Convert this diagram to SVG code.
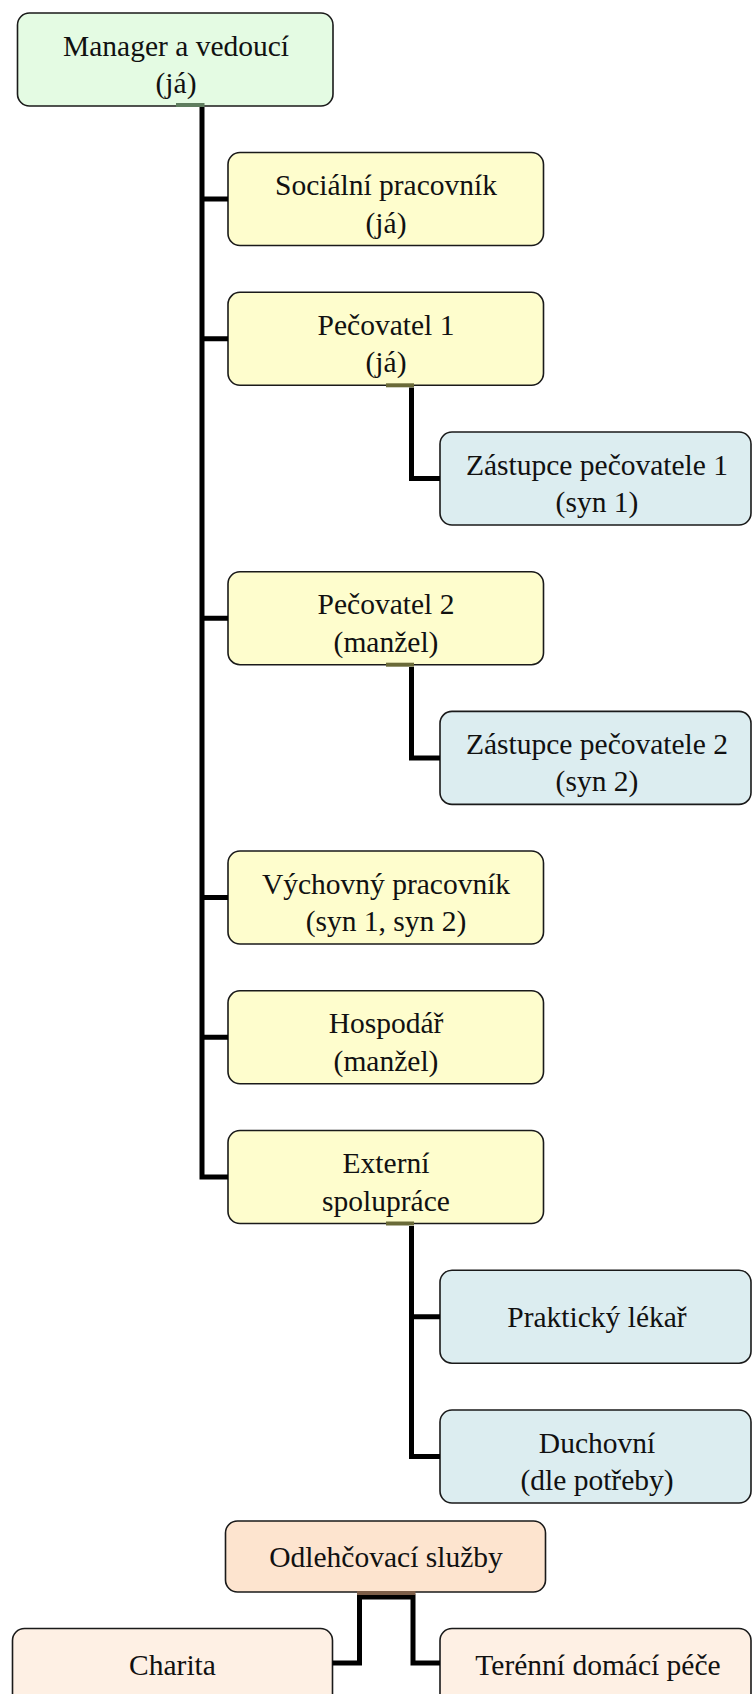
<svg xmlns="http://www.w3.org/2000/svg" width="752" height="1694" viewBox="0 0 752 1694">
<style>
.box{stroke:#1a1a1a;stroke-width:1.6}
.g{fill:#e4fbe3}
.y{fill:#fefdcd}
.b{fill:#dcedf0}
.o{fill:#fde4cf}
.lo{fill:#fef0e4}
.ln{fill:none;stroke:#000;stroke-width:5;stroke-linejoin:miter}
.stub{stroke-width:4;fill:none}
</style>
<rect width="752" height="1694" fill="#fff"/>
<g id="nodes" font-family="Liberation Serif, Times New Roman, serif" font-size="29.5" fill="#111" text-anchor="middle">
<g id="n-manager"><rect class="box g" x="17.5" y="13" width="315.5" height="93" rx="12"/><text x="176" y="55.5">Manager a vedoucí</text><text x="176" y="93">(já)</text></g>
<g id="n-socialni"><rect class="box y" x="228" y="152.5" width="315.5" height="93" rx="12"/><text x="386" y="195">Sociální pracovník</text><text x="386" y="232.5">(já)</text></g>
<g id="n-pecovatel1"><rect class="box y" x="228" y="292.3" width="315.5" height="93" rx="12"/><text x="386" y="334.8">Pečovatel 1</text><text x="386" y="372.3">(já)</text></g>
<g id="n-zastupce1"><rect class="box b" x="440" y="432" width="311" height="93" rx="12"/><text x="597" y="474.5">Zástupce pečovatele 1</text><text x="597" y="512">(syn 1)</text></g>
<g id="n-pecovatel2"><rect class="box y" x="228" y="571.7" width="315.5" height="93" rx="12"/><text x="386" y="614.2">Pečovatel 2</text><text x="386" y="651.7">(manžel)</text></g>
<g id="n-zastupce2"><rect class="box b" x="440" y="711.4" width="311" height="93" rx="12"/><text x="597" y="753.9">Zástupce pečovatele 2</text><text x="597" y="791.4">(syn 2)</text></g>
<g id="n-vychovny"><rect class="box y" x="228" y="851" width="315.5" height="93" rx="12"/><text x="386" y="893.5">Výchovný pracovník</text><text x="386" y="931">(syn 1, syn 2)</text></g>
<g id="n-hospodar"><rect class="box y" x="228" y="990.8" width="315.5" height="93" rx="12"/><text x="386" y="1033.3">Hospodář</text><text x="386" y="1070.8">(manžel)</text></g>
<g id="n-externi"><rect class="box y" x="228" y="1130.5" width="315.5" height="93" rx="12"/><text x="386" y="1173">Externí</text><text x="386" y="1210.5">spolupráce</text></g>
<g id="n-prakticky"><rect class="box b" x="440" y="1270.2" width="311" height="93" rx="12"/><text x="597" y="1326.5">Praktický lékař</text></g>
<g id="n-duchovni"><rect class="box b" x="440" y="1410" width="311" height="93" rx="12"/><text x="597" y="1452.5">Duchovní</text><text x="597" y="1490">(dle potřeby)</text></g>
<g id="n-odlehcovaci"><rect class="box o" x="225.5" y="1521" width="320" height="71" rx="12"/><text x="386" y="1567">Odlehčovací služby</text></g>
<g id="n-charita"><rect class="box lo" x="12.5" y="1628.5" width="320" height="80" rx="12"/><text x="172.5" y="1675">Charita</text></g>
<g id="n-terenni"><rect class="box lo" x="440" y="1628.5" width="311" height="80" rx="12"/><text x="598" y="1675">Terénní domácí péče</text></g>
</g>
<g id="connectors">
<path class="ln" d="M202,107 V1177 H228 M202,199 H228 M202,338.8 H228 M202,618.2 H228 M202,897.5 H228 M202,1037.3 H228"/>
<path class="ln" d="M411.5,387.5 V478.5 H440"/>
<path class="ln" d="M411.5,667 V757.9 H440"/>
<path class="ln" d="M411.5,1226 V1456.5 H440 M411.5,1316.7 H440"/>
<path class="ln" d="M386,1597 H359.5 V1663 H332.5"/>
<path class="ln" d="M386,1597 H413 V1663 H440"/>
<line class="stub" x1="176" y1="105" x2="204.5" y2="105" stroke="#5f7d5f"/>
<line class="stub" x1="386" y1="385.3" x2="414" y2="385.3" stroke="#6a6a38"/>
<line class="stub" x1="386" y1="664.7" x2="414" y2="664.7" stroke="#6a6a38"/>
<line class="stub" x1="386" y1="1223.5" x2="414" y2="1223.5" stroke="#6a6a38"/>
<line class="stub" x1="357" y1="1593" x2="415.5" y2="1593" stroke="#7d5e48"/>
</g>
</svg>
